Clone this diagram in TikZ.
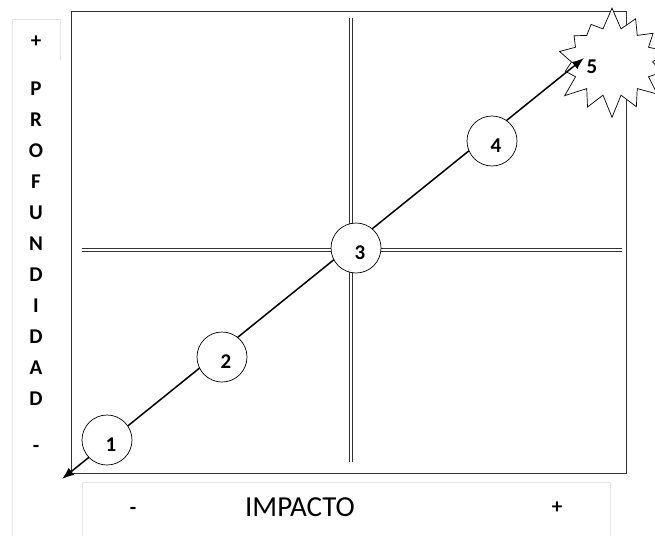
\documentclass[tikz,border=0pt]{standalone}
\usepackage{fontspec}
\setmainfont{Carlito}
\usetikzlibrary{arrows.meta,shapes.symbols}

\begin{document}
\begin{tikzpicture}[
  x=1pt, y=-1pt,
  panel/.style={draw=black!10, line width=0.6pt},
  frame/.style={draw=black!80, line width=1pt},
  axis/.style={draw=black!80, double=white, double distance=2pt, line width=1pt},
  stage/.style={circle, draw, fill=white, minimum size=50pt, inner sep=0pt, line width=0.7pt,
    label={[font=\fontsize{21}{21}\selectfont\bfseries, xshift=4pt, yshift=-5pt]center:#1}},
  letters/.style={align=center, font=\fontsize{21}{31}\selectfont\bfseries},
  sign/.style={font=\fontsize{21}{21}\selectfont\bfseries},
  arr/.style={{Latex[length=12pt,width=9pt]}-{Latex[length=12pt,width=9pt]}, line width=1.5pt}
]
\useasboundingbox (0,0) rectangle (655,535);

% label panels
\draw[panel] (12,560) |- (60,19) -- (60,60);
\draw[panel] (82,560) |- (610,482) -- (610,560);

\node[sign] (plusy) at (36,42) {+};
\node[letters] (prof) at (36,244) {P\\R\\O\\F\\U\\N\\D\\I\\D\\A\\D};
\node[sign] (minusy) at (36,449) {-};

\node[sign] (minusx) at (133,511) {-};
\node[font=\fontsize{29}{29}\selectfont] (imp) at (300,507) {IMPACTO};
\node[sign] (plusx) at (557,508) {+};

% quadrant frame and axes
\draw[frame] (71,12) rectangle (626,473);
\coordinate (vtop) at (350.5,18);
\coordinate (vbot) at (350.5,462);
\coordinate (hleft) at (82,249.5);
\coordinate (hright) at (622,249.5);
\draw[axis] (vtop) -- (vbot);
\draw[axis] (hleft) -- (hright);

% level 5
\node[starburst, draw, fill=white, line width=0.7pt, minimum width=125pt, minimum height=112pt,
  starburst points=14, starburst point height=22pt, random starburst=7] (burst) at (612,62) {};
\node[font=\fontsize{21}{21}\selectfont\bfseries] (n5) at (592,67) {5};

% diagonal
\coordinate (tail) at (62,479);
\coordinate (tip) at (584,58);
\draw[arr] (tail) -- (tip);

% levels 1-4
\node[stage=1] (c1) at (107,440) {};
\node[stage=2] (c2) at (222,357) {};
\node[stage=3] (c3) at (356,248) {};
\node[stage=4] (c4) at (492,141) {};
\end{tikzpicture}
\end{document}
